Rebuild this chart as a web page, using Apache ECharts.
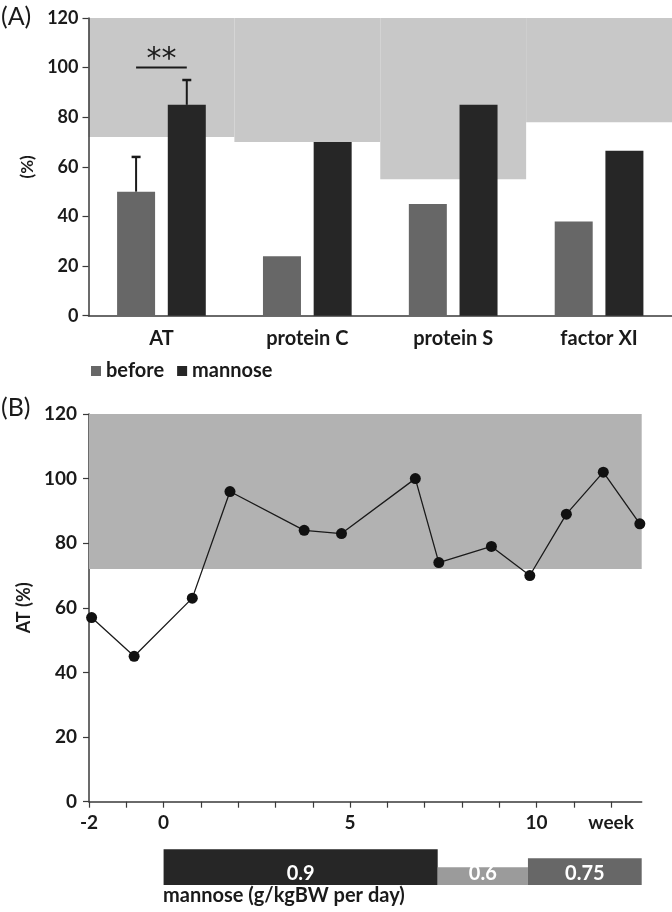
<!DOCTYPE html>
<html><head><meta charset="utf-8">
<script src="https://cdn.jsdelivr.net/npm/echarts@6/dist/echarts.min.js"></script>
<style>html,body{margin:0;padding:0;background:#fff}#c{width:672px;height:912px}</style>
</head><body><div id="c"></div>
<script>
// ---------- Panel A data ----------
const categories = ['AT', 'protein C', 'protein S', 'factor XI'];
const beforeValues = [50, 24, 45, 38];
const mannoseValues = [85, 70, 85, 66.5];
const beforeErrorTop = [64, null, null, null];
const mannoseErrorTop = [95, null, null, null];
const refLowA = [72, 70, 55, 78];
const refHighA = [120, 120, 120, 120];
const sigCategory = [0];
const sigValue = [100];
const sigLabel = ['**'];

// ---------- Panel B data ----------
const weeks = [-1.93, -0.79, 0.77, 1.78, 3.77, 4.77, 6.75, 7.38, 8.79, 9.82, 10.8, 11.79, 12.77];
const atValues = [57, 45, 63, 96, 84, 83, 100, 74, 79, 70, 89, 102, 86];
const refLowB = [72];
const refHighB = [120];
const weekTickValues = [-2, -1, 0, 1, 2, 3, 4, 5, 6, 7, 8, 9, 10, 11, 12];
const weekLabelValues = [-2, 0, 5, 10, 12];
const weekLabelText = ['-2', '0', '5', '10', 'week'];
const doseStart = [0, 7.35, 9.77];
const doseEnd = [7.35, 9.77, 12.82];
const doseValues = [0.9, 0.6, 0.75];
const doseLabels = ['0.9', '0.6', '0.75'];

// ---------- styles ----------
const FONT = 'Lato';
const TXT = '#1a1a1a';
const AXIS = '#3a3a3a';
const BAR_W = 38;
const BAR_GAP_PX = 12.7;
const OFF = (BAR_W + BAR_GAP_PX) / 2;
const doseColors = ['#262626', '#9b9b9b', '#676767'];
const DOSE_MIN = 0.3;

function errRender(offset) {
  return function (params, api) {
    const i = api.value(0), v = api.value(1), top = api.value(2);
    const p0 = api.coord([i, v]), p1 = api.coord([i, top]);
    const x = p0[0] + offset;
    return {
      type: 'group', children: [
        { type: 'line', shape: { x1: x, y1: p0[1], x2: x, y2: p1[1] }, style: { stroke: TXT, lineWidth: 2 } },
        { type: 'line', shape: { x1: x - 4.5, y1: p1[1], x2: x + 4.5, y2: p1[1] }, style: { stroke: TXT, lineWidth: 2.5 } }
      ]
    };
  };
}

const chart = echarts.init(document.getElementById('c'), null, { renderer: 'canvas' });
const option = {
  animation: false,
  backgroundColor: '#fff',
  textStyle: { fontFamily: FONT },
  grid: [
    { left: 88.5, top: 18, width: 596, height: 297.7 },
    { left: 89, top: 414, width: 552.7, height: 387.7 },
    { left: 89, top: 849.3, width: 552.7, height: 35.7 }
  ],
  legend: {
    data: ['before', 'mannose'], left: 86, top: 356, icon: 'rect',
    itemWidth: 10, itemHeight: 10, itemGap: 13,
    textStyle: { fontFamily: FONT, fontWeight: 'bold', fontSize: 20, color: TXT }
  },
  xAxis: [
    {
      gridIndex: 0, type: 'category', data: categories,
      axisLine: { lineStyle: { color: AXIS, width: 1.5 } }, axisTick: { show: false },
      axisLabel: { margin: 13, fontFamily: FONT, fontWeight: 'bold', fontSize: 20, color: TXT }
    },
    {
      gridIndex: 1, type: 'value', min: -2, max: 12.82, splitLine: { show: false },
      axisLine: { onZero: false, lineStyle: { color: AXIS, width: 1.5 } },
      axisTick: { customValues: weekTickValues, length: 6, lineStyle: { color: AXIS, width: 1.2 } },
      axisLabel: {
        customValues: weekLabelValues, margin: 12, fontFamily: FONT, fontWeight: 'bold', fontSize: 19, color: TXT,
        formatter: v => weekLabelText[weekLabelValues.indexOf(v)] || ''
      }
    },
    { gridIndex: 2, type: 'value', min: -2, max: 12.82, show: false }
  ],
  yAxis: [
    {
      gridIndex: 0, type: 'value', min: 0, max: 120, interval: 20, splitLine: { show: false },
      name: '(%)', nameLocation: 'middle', nameGap: 49, nameRotate: 90,
      nameTextStyle: { fontFamily: FONT, fontWeight: 'bold', fontSize: 17, color: TXT },
      axisLine: { show: true, onZero: false, lineStyle: { color: AXIS, width: 1.5 } },
      axisTick: { show: true, length: 6, lineStyle: { color: AXIS, width: 1.2 } },
      axisLabel: { margin: 10, fontFamily: FONT, fontWeight: 'bold', fontSize: 18, color: TXT }
    },
    {
      gridIndex: 1, type: 'value', min: 0, max: 120, interval: 20, splitLine: { show: false },
      name: 'AT (%)', nameLocation: 'middle', nameGap: 49, nameRotate: 90,
      nameTextStyle: { fontFamily: FONT, fontWeight: 'bold', fontSize: 18, color: TXT },
      axisLine: { show: true, onZero: false, lineStyle: { color: AXIS, width: 1.5 } },
      axisTick: { show: true, length: 6, lineStyle: { color: AXIS, width: 1.2 } },
      axisLabel: { margin: 12, fontFamily: FONT, fontWeight: 'bold', fontSize: 19, color: TXT }
    },
    { gridIndex: 2, type: 'value', min: DOSE_MIN, max: 0.9, show: false }
  ],
  series: [
    {
      type: 'custom', xAxisIndex: 0, yAxisIndex: 0, z: 0, silent: true,
      data: categories.map((c, i) => [i, refLowA[i], refHighA[i]]),
      renderItem: function (params, api) {
        const i = api.value(0);
        const w = api.size([1, 0])[0];
        const lo = api.coord([i, api.value(1)]), hi = api.coord([i, api.value(2)]);
        return { type: 'rect', shape: { x: lo[0] - w / 2, y: hi[1], width: w, height: lo[1] - hi[1] }, style: { fill: '#c8c8c8' } };
      }
    },
    {
      name: 'before', type: 'bar', xAxisIndex: 0, yAxisIndex: 0, z: 2,
      data: beforeValues, barWidth: BAR_W, barGap: (BAR_GAP_PX / BAR_W * 100) + '%',
      itemStyle: { color: '#676767' }
    },
    {
      name: 'mannose', type: 'bar', xAxisIndex: 0, yAxisIndex: 0, z: 2,
      data: mannoseValues, barWidth: BAR_W,
      itemStyle: { color: '#262626' }
    },
    {
      type: 'custom', xAxisIndex: 0, yAxisIndex: 0, z: 3, silent: true,
      data: categories.map((c, i) => [i, beforeValues[i], beforeErrorTop[i]]).filter(d => d[2] != null),
      renderItem: errRender(-OFF)
    },
    {
      type: 'custom', xAxisIndex: 0, yAxisIndex: 0, z: 3, silent: true,
      data: categories.map((c, i) => [i, mannoseValues[i], mannoseErrorTop[i]]).filter(d => d[2] != null),
      renderItem: errRender(OFF)
    },
    {
      type: 'custom', xAxisIndex: 0, yAxisIndex: 0, z: 3, silent: true,
      data: sigCategory.map((c, i) => [c, sigValue[i]]),
      renderItem: function (params, api) {
        const p = api.coord([api.value(0), api.value(1)]);
        return {
          type: 'group', children: [
            { type: 'line', shape: { x1: p[0] - OFF, y1: p[1], x2: p[0] + OFF, y2: p[1] }, style: { stroke: TXT, lineWidth: 2 } },
            { type: 'text', x: p[0], y: p[1] + 8, style: { text: sigLabel[params.dataIndex], fill: TXT, fontFamily: 'DejaVu Sans', fontSize: 30, align: 'center', verticalAlign: 'bottom' } }
          ]
        };
      }
    },
    {
      type: 'line', xAxisIndex: 1, yAxisIndex: 1, z: 3,
      data: weeks.map((w, i) => [w, atValues[i]]),
      symbol: 'circle', symbolSize: 11,
      itemStyle: { color: '#111' }, lineStyle: { color: '#1a1a1a', width: 1.3 },
      markArea: {
        silent: true, itemStyle: { color: '#b2b2b2' },
        data: refLowB.map((lo, i) => [{ yAxis: lo }, { yAxis: refHighB[i] }])
      }
    },
    {
      type: 'custom', xAxisIndex: 2, yAxisIndex: 2, silent: true,
      data: doseValues.map((v, i) => [doseStart[i], doseEnd[i], v]),
      renderItem: function (params, api) {
        const i = params.dataIndex;
        const p0 = api.coord([api.value(0), DOSE_MIN]), p1 = api.coord([api.value(1), api.value(2)]);
        return {
          type: 'group', children: [
            { type: 'rect', shape: { x: p0[0], y: p1[1], width: p1[0] - p0[0], height: p0[1] - p1[1] }, style: { fill: doseColors[i] } },
            { type: 'text', x: (p0[0] + p1[0]) / 2, y: p0[1] - 11, style: { text: doseLabels[i], fill: '#fff', fontFamily: FONT, fontWeight: 'bold', fontSize: 20, align: 'center', verticalAlign: 'middle' } }
          ]
        };
      }
    }
  ],
  graphic: [
    { type: 'text', left: 1, top: 4, style: { text: '(A)', fill: TXT, fontFamily: FONT, fontSize: 25 } },
    { type: 'text', left: 1, top: 395, style: { text: '(B)', fill: TXT, fontFamily: FONT, fontSize: 25 } },
    { type: 'text', left: 163, top: 886, style: { text: 'mannose (g/kgBW per day)', fill: TXT, fontFamily: FONT, fontWeight: 'bold', fontSize: 20 } }
  ]
};
chart.setOption(option);
</script>
</body></html>
